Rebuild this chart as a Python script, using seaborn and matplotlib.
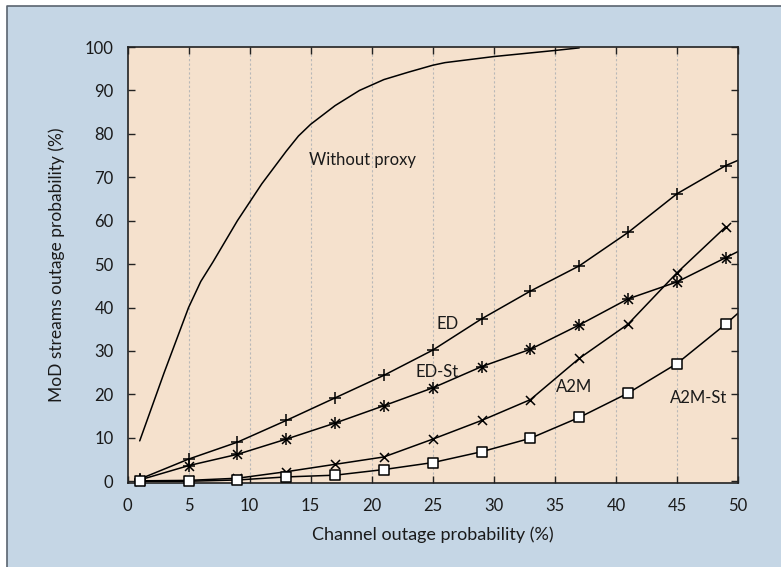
import matplotlib.pyplot as plt
import seaborn as sns
import pandas as pd
import numpy as np

# Channel outage probability (%) at the marker positions
x_marks = [1, 5, 9, 13, 17, 21, 25, 29, 33, 37, 41, 45, 49]

ed = [0.5, 5.1, 9.0, 14.0, 19.2, 24.4, 30.2, 37.4, 43.8, 49.6, 57.3, 66.2, 72.7]
ed_st = [0.3, 3.6, 6.2, 9.7, 13.4, 17.4, 21.5, 26.4, 30.4, 36.0, 42.0, 45.9, 51.5]
a2m = [0.1, 0.2, 0.7, 2.2, 3.9, 5.6, 9.7, 14.0, 18.8, 28.3, 36.2, 48.0, 58.6]
a2m_st = [0.0, 0.0, 0.3, 1.0, 1.4, 2.7, 4.3, 6.8, 9.9, 14.7, 20.3, 27.1, 36.2]

# values where the lines run on to the right edge (x = 50)
ed_end = 73.9
ed_st_end = 52.9
a2m_st_end = 38.7

# "Without proxy" curve
x_np = [1, 3, 5, 6, 7, 9, 11, 13, 14, 15, 17, 19, 21, 23, 25, 26, 30, 35, 37]
y_np = [9.3, 25.0, 40.0, 46.0, 50.5, 60.0, 68.5, 76.0, 79.5, 82.2, 86.5, 90.0, 92.5,
        94.2, 95.8, 96.4, 97.8, 99.2, 99.8]

labels = ["Without proxy", "ED", "ED-St", "A2M", "A2M-St"]

sns.set_style("ticks")
plt.rcParams['font.family'] = ['Lato', 'DejaVu Sans']

fig = plt.figure(figsize=(7.81, 5.67), dpi=100)
fig.patch.set_facecolor('white')

# light blue panel with a thin dark edge on top and left
fig.patches.append(plt.Rectangle((7 / 781, 0), 1, 1 - 6 / 567, transform=fig.transFigure,
                                 facecolor='#c5d6e5', edgecolor='none', zorder=-10))
fig.lines.append(plt.Line2D([7 / 781, 7 / 781, 1], [0, 1 - 6 / 567, 1 - 6 / 567],
                            transform=fig.transFigure, color='#5a6470', lw=1.2, zorder=-9))

ax = fig.add_axes([127.5 / 781, 1 - 483 / 567, (738 - 127.5) / 781, (483 - 47) / 567])
ax.set_zorder(1)
ax.set_facecolor('#f5e1cd')

for xv in range(5, 50, 5):
    ax.axvline(xv, color='#b8b8b8', lw=0.8, ls=(0, (2, 2)), zorder=0)

sns.lineplot(x=x_np, y=y_np, ax=ax, color='black', lw=1.1, sort=False)

# marker styles: the star is a "+" laid over an "x"
series = [
    (ed, ed_end, ['+'], 9),
    (ed_st, ed_st_end, ['+', 'x'], 8),
    (a2m, None, ['x'], 6.5),
    (a2m_st, a2m_st_end, ['s'], 6.5),
]
for ys, yend, mks, ms in series:
    xs = list(x_marks)
    yv = list(ys)
    if yend is not None:
        xs.append(50)
        yv.append(yend)
    sns.lineplot(x=xs, y=yv, ax=ax, color='black', lw=1.1, sort=False)
    for mk in mks:
        size = ms * 0.8 if (mk == 'x' and len(mks) > 1) else ms
        sns.scatterplot(x=x_marks, y=ys, ax=ax, marker=mk, s=size ** 2,
                        facecolor='white' if mk == 's' else 'black',
                        edgecolor='black', linewidth=1.1, zorder=5, clip_on=False)

ax.set_xlim(0, 50)
ax.set_ylim(-0.4, 100)
ax.set_xticks(range(0, 51, 5))
ax.set_yticks(range(0, 101, 10))
ax.tick_params(direction='in', top=True, right=True, length=5, width=1,
               labelsize=12, labelcolor='#1a1a1a', color='#222222')
ax.tick_params(axis='y', pad=10)
ax.tick_params(axis='x', pad=11)
for sp in ax.spines.values():
    sp.set_color('#222222')
    sp.set_linewidth(1.2)

ax.set_xlabel("Channel outage probability (%)", fontsize=13, labelpad=9, color='#1a1a1a')
ax.set_ylabel("MoD streams outage probability (%)", fontsize=12.5, labelpad=14, color='#1a1a1a')

txt = dict(fontsize=12, color='#1a1a1a', va='center', ha='left')
ax.text(14.9, 73.9, labels[0], **txt)
ax.text(25.3, 36.3, labels[1], **txt)
ax.text(23.6, 25.1, labels[2], **txt)
ax.text(35.1, 21.8, labels[3], **txt)
ax.text(44.4, 19.1, labels[4], **txt)

fig.savefig("out.png", dpi=100, facecolor=fig.get_facecolor())
